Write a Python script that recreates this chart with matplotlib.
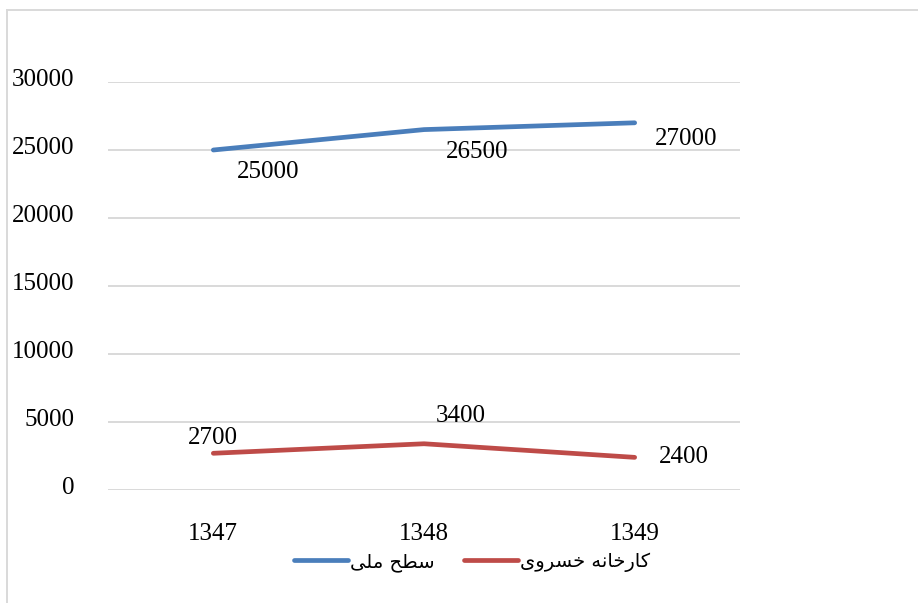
"""Line chart: national level vs. Khosravi factory, 1347-1349."""
import matplotlib
matplotlib.use("Agg")
import matplotlib.pyplot as plt
import matplotlib.transforms as mtransforms
from matplotlib.lines import Line2D

years = ["1347", "1348", "1349"]
national = [25000, 26500, 27000]
factory = [2700, 3400, 2400]
national_name = "سطح ملی"
factory_name = "کارخانه خسروی"
y_ticks = [0, 5000, 10000, 15000, 20000, 25000, 30000]

# label offsets (pixels) relative to each point
national_offsets = [(55, -22), (53, -22), (51, -16)]
factory_offsets = [(0, 15), (37, 28), (49, 0)]

BLUE = "#4a7ebb"
RED = "#be4b48"
GRID = "#d9d9d9"

# isolated, final, initial, medial presentation forms
FORMS = {
    "ا": ("\ufe8d", "\ufe8e", None, None),
    "ر": ("\ufead", "\ufeae", None, None),
    "و": ("\ufeed", "\ufeee", None, None),
    "ک": ("\ufb8e", "\ufb8f", "\ufb90", "\ufb91"),
    "خ": ("\ufea5", "\ufea6", "\ufea7", "\ufea8"),
    "ن": ("\ufee5", "\ufee6", "\ufee7", "\ufee8"),
    "ه": ("\ufee9", "\ufeea", "\ufeeb", "\ufeec"),
    "س": ("\ufeb1", "\ufeb2", "\ufeb3", "\ufeb4"),
    "ی": ("\ufbfc", "\ufbfd", "\ufbfe", "\ufbff"),
    "ط": ("\ufec1", "\ufec2", "\ufec3", "\ufec4"),
    "ح": ("\ufea1", "\ufea2", "\ufea3", "\ufea4"),
    "م": ("\ufee1", "\ufee2", "\ufee3", "\ufee4"),
    "ل": ("\ufedd", "\ufede", "\ufedf", "\ufee0"),
}


def shape(text):
    """Join Persian letters and put them in visual (left-to-right) order."""
    out = []
    for i, ch in enumerate(text):
        if ch not in FORMS:
            out.append(ch)
            continue
        prev = text[i - 1] if i > 0 else ""
        nxt = text[i + 1] if i + 1 < len(text) else ""
        joins_prev = prev in FORMS and FORMS[prev][2] is not None
        joins_next = nxt in FORMS and FORMS[ch][2] is not None
        iso, fin, ini, med = FORMS[ch]
        if joins_prev and joins_next:
            out.append(med)
        elif joins_prev:
            out.append(fin)
        elif joins_next:
            out.append(ini)
        else:
            out.append(iso)
    return "".join(reversed(out))


plt.rcParams["font.family"] = ["Liberation Serif", "DejaVu Sans"]

fig = plt.figure(figsize=(9.18, 6.03), dpi=100)
ax = fig.add_axes([108 / 918, 113 / 603, 632 / 918, 408 / 603])

x = range(len(years))
ax.plot(x, national, color=BLUE, lw=3.4, solid_capstyle="round",
        label=shape(national_name))
ax.plot(x, factory, color=RED, lw=3.4, solid_capstyle="round",
        label=shape(factory_name))

for xi, v, off in zip(x, national, national_offsets):
    ax.annotate(f"{v}", (xi, v), xytext=off, textcoords="offset pixels",
                ha="center", va="center", fontsize=18)
for xi, v, off in zip(x, factory, factory_offsets):
    ax.annotate(f"{v}", (xi, v), xytext=off, textcoords="offset pixels",
                ha="center", va="center", fontsize=18)

ax.set_xlim(-0.5, 2.5)
ax.set_ylim(0, 30000)
ax.set_yticks(y_ticks)
ax.set_yticklabels([str(t) for t in y_ticks], fontsize=18)
ax.set_xticks(list(x))
ax.set_xticklabels(years, fontsize=18)
ax.tick_params(axis="y", length=0, pad=24)
ax.tick_params(axis="x", length=0, pad=24)
ax.grid(axis="y", color=GRID, lw=1.4)
ax.set_axisbelow(True)
for side in ax.spines.values():
    side.set_visible(False)

# nudge y tick labels slightly above their gridlines
lift = mtransforms.ScaledTranslation(0, 4 / 100, fig.dpi_scale_trans)
for lbl in ax.get_yticklabels():
    lbl.set_transform(lbl.get_transform() + lift)

fig.legend(loc="center", bbox_to_anchor=(472 / 918, 1 - 562 / 603), ncol=2,
           frameon=False, handlelength=2.8, handletextpad=0.1,
           columnspacing=1.5, prop={"family": "DejaVu Sans", "size": 14})

# chart area border (top and left edges visible)
fig.add_artist(Line2D([7 / 918, 1], [1 - 10 / 603] * 2, color=GRID, lw=1.4))
fig.add_artist(Line2D([7 / 918] * 2, [0, 1 - 10 / 603], color=GRID, lw=1.4))

fig.savefig("out.png", dpi=100)
